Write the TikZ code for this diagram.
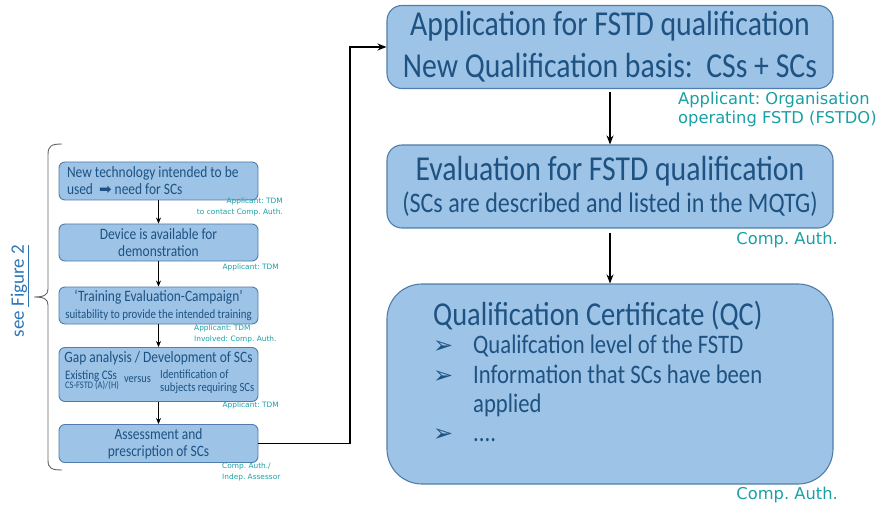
\documentclass[tikz,border=0pt]{standalone}
\usepackage{fontspec}
\setmainfont{Carlito}
\newfontfamily\boxfont[FakeStretch=0.85]{Carlito}
\newfontfamily\whofont{DejaVu Sans}
\newfontfamily\symfont{DejaVu Sans}
\usetikzlibrary{arrows.meta}
\definecolor{boxfill}{RGB}{157,195,230}
\definecolor{boxline}{RGB}{80,125,170}
\definecolor{boxtext}{RGB}{30,82,130}
\definecolor{whoteal}{RGB}{25,160,165}
\definecolor{seeblue}{RGB}{46,117,182}
\definecolor{bracegray}{RGB}{100,100,100}

\begin{document}
\begin{tikzpicture}[x=1pt,y=1pt,yscale=-1,
  lbox/.style={draw=boxline,line width=0.9pt,fill=boxfill,rounded corners=6pt,minimum width=199pt,inner sep=0pt,
    align=center,text=boxtext,font=\boxfont\fontsize{15.8}{17}\selectfont},
  rbox/.style={draw=boxline,line width=1.1pt,fill=boxfill,rounded corners=15pt,minimum width=446pt,inner sep=0pt,
    align=center,text=boxtext,font=\boxfont\fontsize{35}{42}\selectfont},
  boxtxt/.style={inner sep=0pt,text=boxtext,font=\boxfont\fontsize{12.5}{13}\selectfont},
  who/.style={inner sep=0pt,text=whoteal,font=\whofont\fontsize{7.4}{10.5}\selectfont},
  whobig/.style={inner sep=0pt,text=whoteal,font=\whofont\fontsize{16.3}{19}\selectfont},
  flow/.style={-{Stealth[length=6pt,width=5pt]},line width=0.8pt},
  bigflow/.style={-{Stealth[length=9pt,width=7pt]},line width=1.2pt}]
\useasboundingbox (0,0) rectangle (887,508);

%% left column: steps of figure 2
\node[lbox,minimum height=38pt,text width=183pt,align=flush left] (newtech) at (158.5,181)
  {New technology intended to be\\used\ \ {\symfont\fontsize{15}{12}\selectfont ➡}\ need for SCs};
\node[who,anchor=north east,align=right] (newtechwho) at (283,198) {Applicant:\ TDM\\to contact Comp.\ Auth.};

\node[lbox,minimum height=37pt] (device) at (158.5,242.5) {Device is available for\\demonstration};
\node[who,anchor=north east] (devicewho) at (279,264) {Applicant:\ TDM};

\node[lbox,minimum height=37pt] (campaign) at (158.5,305.5)
  {‘Training Evaluation-Campaign’\\{\fontsize{12.8}{14}\selectfont suitability to provide the intended training}};
\node[who,anchor=north west,align=left] (campaignwho) at (194,325) {Applicant:\ TDM\\Involved:\ Comp.\ Auth.};

\node[lbox,minimum height=54pt] (gap) at (158.5,374.5) {};
\node[boxtxt,font=\boxfont\fontsize{15.8}{17}\selectfont] (gaptitle) at (158.5,358) {Gap analysis / Development of SCs};
\node[boxtxt,anchor=west,font=\boxfont\fontsize{13}{13}\selectfont] (gapcs) at (65,376) {Existing CSs};
\node[boxtxt,anchor=west,font=\boxfont\fontsize{10}{10}\selectfont] (gapstd) at (65,386) {CS-FSTD (A)/(H)};
\node[boxtxt,font=\boxfont\fontsize{12.2}{13}\selectfont] (gapvs) at (137.5,380) {versus};
\node[boxtxt,anchor=west,align=left] (gapid) at (160,382) {Identification of\\subjects requiring SCs};
\node[who,anchor=north east] (gapwho) at (279,402) {Applicant:\ TDM};

\node[lbox,minimum height=38pt] (assess) at (158.5,443.5) {Assessment and\\prescription of SCs};
\node[who,anchor=north west,align=left] (assesswho) at (222,463) {Comp.\ Auth./\\Indep.\ Assessor};

\draw[flow] (newtech) -- (device);
\draw[flow] (device) -- (campaign);
\draw[flow] (campaign) -- (gap);
\draw[flow] (gap) -- (assess);

%% brace and reference
\draw[bracegray,line width=0.9pt] (62,144) .. controls (51,144) and (48,146) .. (48,155) -- (48,289)
  .. controls (48,295) and (44,297) .. (34,297) .. controls (44,297) and (48,299) .. (48,305)
  -- (48,460) .. controls (48,468) and (51,470) .. (62,470);
\node[rotate=90,inner sep=0pt,text=seeblue,font=\fontsize{19}{19}\selectfont] (seefig) at (20,291) {see \underline{Figure 2}};

%% right column: qualification
\node[rbox,minimum height=83pt] (apply) at (610,47)
  {Application for FSTD qualification\\New Qualification basis:\ \ CSs + SCs};
\node[whobig,anchor=north west,align=left] (applywho) at (678,92) {Applicant:\ Organisation\\operating FSTD (FSTDO)};

\node[rbox,minimum height=83pt,font=\boxfont\fontsize{35}{32}\selectfont] (evaluate) at (610,186.5)
  {Evaluation for FSTD qualification\\{\fontsize{28.3}{32}\selectfont (SCs are described and listed in the MQTG)}};
\node[whobig,anchor=north east] (evaluatewho) at (838,232) {Comp.\ Auth.};

\node[rbox,rounded corners=35pt,minimum height=200pt] (certificate) at (610,384) {};
\node[boxtxt,anchor=west,font=\boxfont\fontsize{33.4}{36}\selectfont] (certtitle) at (433,316) {Qualification Certificate (QC)};
\node[boxtxt,anchor=north west,align=left,font=\boxfont\fontsize{26.7}{29.3}\selectfont] (certlist) at (433,333)
  {\begin{tabular}{@{}p{40pt}@{}l@{}}
   {\symfont\fontsize{24}{17}\selectfont ➢} & Qualifcation level of the FSTD\\
   {\symfont\fontsize{24}{17}\selectfont ➢} & Information that SCs have been\\
   & applied\\
   {\symfont\fontsize{24}{17}\selectfont ➢} & ....
   \end{tabular}};
\node[whobig,anchor=north east] (certwho) at (838,487) {Comp.\ Auth.};

\coordinate (bend) at (350,443.5);
\draw[bigflow] (assess.east) -- (bend) |- (apply.west);
\draw[bigflow,shorten <=3pt] (apply) -- (evaluate);
\draw[bigflow,shorten <=4pt] (evaluate) -- (certificate);

\end{tikzpicture}
\end{document}
